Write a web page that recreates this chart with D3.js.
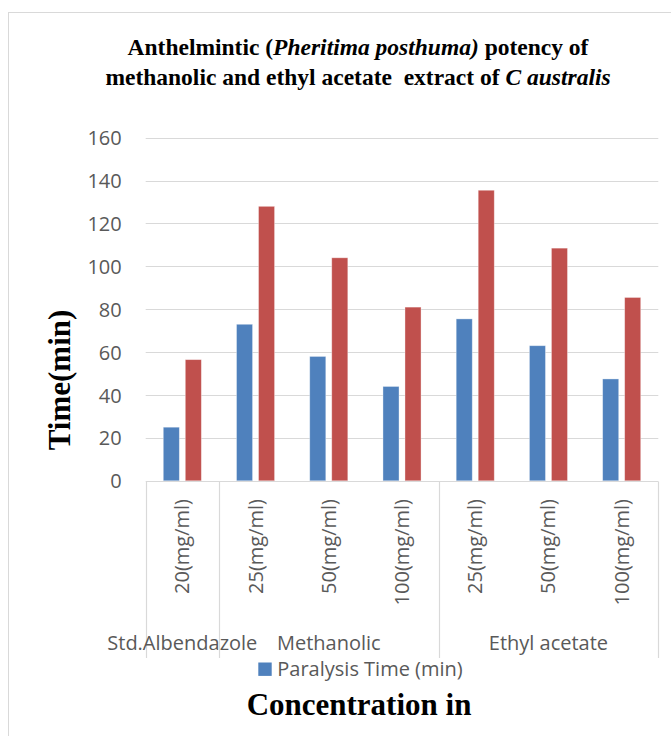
<!DOCTYPE html>
<html>
<head>
<meta charset="utf-8">
<script src="https://cdn.jsdelivr.net/npm/d3@7"></script>
<style>
  html, body { margin: 0; padding: 0; background: #fff; }
  svg { display: block; }
</style>
</head>
<body>
<svg id="chart" width="671" height="736"></svg>
<script>
// Anthelmintic activity: paralysis and death times per treatment/concentration
const groups = ["Std.Albendazole", "Methanolic", "Ethyl acetate"];
const concentrations = ["20(mg/ml)", "25(mg/ml)", "50(mg/ml)", "100(mg/ml)", "25(mg/ml)", "50(mg/ml)", "100(mg/ml)"];
const groupOfCategory = [0, 1, 1, 1, 2, 2, 2];
const seriesNames = ["Paralysis Time (min)", "Death Time (min)"];
const paralysisTime = [25, 73, 58, 44, 75.5, 63, 47.5];
const deathTime = [56.5, 128, 104, 81, 135.5, 108.5, 85.5];
const yTicks = [0, 20, 40, 60, 80, 100, 120, 140, 160];
const seriesColors = ["#4f81bd", "#c0504d"];

const svg = d3.select("#chart");
const plot = { left: 145.7, right: 658.3, top: 137.7, bottom: 480.8 };
const axisFont = "'Open Sans', 'Segoe UI', sans-serif";
const serifFont = "'Liberation Serif', 'Times New Roman', serif";
const textGrey = "#595959";
const lineGrey = "#d9d9d9";

// chart area frame
svg.append("rect")
  .attr("x", 8.5).attr("y", 12.5)
  .attr("width", 700).attr("height", 760)
  .attr("fill", "#fff").attr("stroke", lineGrey).attr("stroke-width", 1);

// title
const title = svg.append("text")
  .attr("text-anchor", "middle")
  .attr("font-family", serifFont)
  .attr("font-weight", "bold")
  .attr("font-size", 23.5)
  .attr("fill", "#000");
const t1 = title.append("tspan").attr("x", 358).attr("y", 55);
t1.append("tspan").text("Anthelmintic (");
t1.append("tspan").attr("font-style", "italic").text("Pheritima posthuma)");
t1.append("tspan").text(" potency of");
const t2 = title.append("tspan").attr("x", 358).attr("y", 85);
t2.append("tspan").style("white-space", "pre").text("methanolic and ethyl acetate  extract of ");
t2.append("tspan").attr("font-style", "italic").text("C australis");

// scales
const idx = d3.range(concentrations.length);
const x0 = d3.scaleBand().domain(idx).range([plot.left, plot.right]).paddingInner(0).paddingOuter(0);
const bw = x0.bandwidth();
const x1 = d3.scaleBand().domain(seriesNames).range([0.24 * bw, 0.76 * bw]).paddingInner(0.27);
const y = d3.scaleLinear().domain([0, 160]).range([plot.bottom, plot.top]);

// horizontal gridlines
svg.append("g").selectAll("line").data(yTicks.filter(d => d > 0)).join("line")
  .attr("x1", plot.left).attr("x2", plot.right)
  .attr("y1", d => Math.round(y(d)) + 0.5).attr("y2", d => Math.round(y(d)) + 0.5)
  .attr("stroke", lineGrey).attr("stroke-width", 1);

// y tick labels
const yAxis = d3.axisLeft(y).tickValues(yTicks).tickSize(0).tickPadding(0);
const gy = svg.append("g").attr("transform", `translate(${plot.left - 24},0)`).call(yAxis);
gy.select(".domain").remove();
gy.selectAll("text")
  .attr("font-family", axisFont).attr("font-size", 20).attr("fill", textGrey)
  .attr("dy", "0.35em");

// bars
const rows = idx.map(i => ({ i, values: [paralysisTime[i], deathTime[i]] }));
const cat = svg.append("g").selectAll("g").data(rows).join("g")
  .attr("transform", d => `translate(${x0(d.i)},0)`);
cat.selectAll("rect").data(d => d.values.map((v, s) => ({ v, s }))).join("rect")
  .attr("x", d => x1(seriesNames[d.s]))
  .attr("width", x1.bandwidth())
  .attr("y", d => y(d.v))
  .attr("height", d => y(0) - y(d.v))
  .attr("fill", d => seriesColors[d.s])
  .attr("stroke", "#ffffff").attr("stroke-opacity", 0.45).attr("stroke-width", 0.8);

// category axis line
const axisY = Math.round(plot.bottom) + 0.5;
svg.append("line")
  .attr("x1", plot.left).attr("x2", plot.right)
  .attr("y1", axisY).attr("y2", axisY)
  .attr("stroke", lineGrey).attr("stroke-width", 1.2);

// group separators spanning both label levels
const groupSpans = groups.map((g, gi) => {
  const members = idx.filter(i => groupOfCategory[i] === gi);
  const start = x0(members[0]);
  const end = x0(members[members.length - 1]) + bw;
  return { name: g, start, end };
});
const seps = [groupSpans[0].start].concat(groupSpans.map(d => d.end));
svg.append("g").selectAll("line").data(seps).join("line")
  .attr("x1", d => Math.round(d) + 0.5).attr("x2", d => Math.round(d) + 0.5)
  .attr("y1", axisY).attr("y2", 658)
  .attr("stroke", lineGrey).attr("stroke-width", 1.2);

// rotated concentration labels
svg.append("g").selectAll("text").data(idx).join("text")
  .attr("transform", i => `translate(${x0(i) + bw / 2},499) rotate(-90)`)
  .attr("text-anchor", "end")
  .attr("dy", "0.35em")
  .attr("font-family", axisFont).attr("font-size", 20).attr("fill", textGrey)
  .text(i => concentrations[i]);

// group labels
svg.append("g").selectAll("text").data(groupSpans).join("text")
  .attr("x", d => (d.start + d.end) / 2)
  .attr("y", 643)
  .attr("dy", "0.35em")
  .attr("text-anchor", "middle")
  .attr("font-family", axisFont).attr("font-size", 20).attr("fill", textGrey)
  .text(d => d.name);

// legend
const legend = svg.append("g").attr("transform", "translate(258.3,662.5)");
legend.append("rect").attr("width", 13.4).attr("height", 13.4).attr("fill", seriesColors[0]);
legend.append("text")
  .attr("x", 19).attr("y", 6.7).attr("dy", "0.35em")
  .attr("font-family", axisFont).attr("font-size", 20).attr("fill", textGrey)
  .text(seriesNames[0]);

// axis titles
svg.append("text")
  .attr("x", 359).attr("y", 715)
  .attr("text-anchor", "middle")
  .attr("font-family", serifFont).attr("font-weight", "bold").attr("font-size", 31)
  .attr("fill", "#000")
  .text("Concentration in");

svg.append("text")
  .attr("transform", "translate(70,380) rotate(-90)")
  .attr("text-anchor", "middle")
  .attr("font-family", serifFont).attr("font-weight", "bold").attr("font-size", 31)
  .attr("fill", "#000")
  .text("Time(min)");
</script>
</body>
</html>
